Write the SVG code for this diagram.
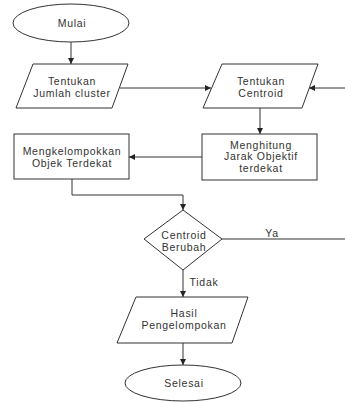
<svg xmlns="http://www.w3.org/2000/svg" width="345" height="403" viewBox="0 0 345 403">
<defs>
<marker id="ah" viewBox="0 0 10 10" refX="10" refY="5" markerWidth="6" markerHeight="6" orient="auto" markerUnits="userSpaceOnUse">
<path d="M0,0 L10,5 L0,10 z" fill="#222"/>
</marker>
<style>
.s{fill:#fff;stroke:#333;stroke-width:1}
.c{fill:none;stroke:#333;stroke-width:1;marker-end:url(#ah)}
.l{fill:none;stroke:#333;stroke-width:1}
text{font-family:"Liberation Sans",Arial,sans-serif;font-size:10.5px;fill:#333;text-anchor:middle;letter-spacing:0.7px}
</style>
</defs>
<rect width="345" height="403" fill="#fff"/>
<g id="connectors">
<line class="c" x1="71" y1="42" x2="71" y2="64"/>
<line class="c" x1="120" y1="88" x2="211" y2="88"/>
<line class="c" x1="345" y1="88" x2="309" y2="88"/>
<line class="c" x1="260" y1="108" x2="260" y2="134"/>
<line class="c" x1="202" y1="157" x2="129" y2="157"/>
<polyline class="c" points="72,179 72,195 183,195 183,210"/>
<line class="l" x1="222" y1="239" x2="345" y2="239"/>
<line class="c" x1="183" y1="270" x2="183" y2="297"/>
<line class="c" x1="183" y1="343" x2="183" y2="365"/>
<text x="272" y="237">Ya</text>
<text x="204" y="286">Tidak</text>
</g>
<g id="mulai">
<ellipse class="s" cx="71" cy="23" rx="58" ry="19"/>
<text x="72" y="27">Mulai</text>
</g>
<g id="jumlah">
<polygon class="s" points="33,64 128,64 112,108 16,108"/>
<text x="72" y="85">Tentukan</text>
<text x="72" y="97">Jumlah cluster</text>
</g>
<g id="centroid">
<polygon class="s" points="222,64 318,64 302,108 203,108"/>
<text x="261" y="85">Tentukan</text>
<text x="261" y="97">Centroid</text>
</g>
<g id="menghitung">
<rect class="s" x="202" y="134" width="115" height="46"/>
<text x="261" y="149">Menghitung</text>
<text x="261" y="160">Jarak Objektif</text>
<text x="261" y="172">terdekat</text>
</g>
<g id="mengkelompokkan">
<rect class="s" x="14" y="134" width="115" height="45"/>
<text x="72" y="155">Mengkelompokkan</text>
<text x="72" y="167">Objek Terdekat</text>
</g>
<g id="berubah">
<polygon class="s" points="183,210 222,239 183,270 144,239"/>
<text x="184" y="239">Centroid</text>
<text x="184" y="251">Berubah</text>
</g>
<g id="hasil">
<polygon class="s" points="136,297 248,297 232,343 117,343"/>
<text x="184" y="317">Hasil</text>
<text x="184" y="329">Pengelompokan</text>
</g>
<g id="selesai">
<ellipse class="s" cx="183" cy="383" rx="58" ry="18"/>
<text x="184" y="387">Selesai</text>
</g>
</svg>
